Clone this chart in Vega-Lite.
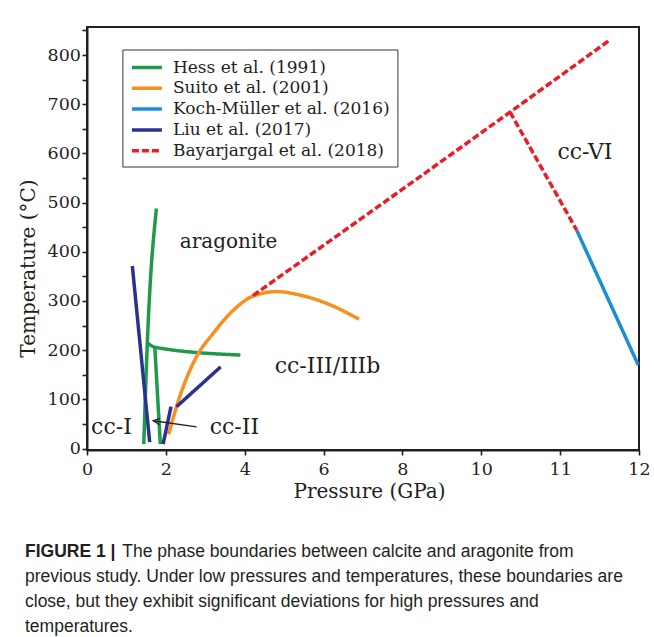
{
  "$schema": "https://vega.github.io/schema/vega-lite/v6.json",
  "autosize": {"type": "none"},
  "width": 552,
  "height": 423,
  "padding": {"left": 87, "top": 27, "right": 15, "bottom": 187},
  "background": "white",
  "title": {
    "text": "FIGURE 1 |",
    "subtitle": [
      "\u200b\u00a0\u00a0\u00a0\u00a0\u00a0\u00a0\u00a0\u00a0\u00a0\u00a0\u00a0\u00a0\u00a0\u00a0\u00a0\u00a0\u00a0\u00a0\u00a0\u00a0The phase boundaries between calcite and aragonite from",
      "previous study. Under low pressures and temperatures, these boundaries are",
      "close, but they exhibit significant deviations for high pressures and",
      "temperatures."
    ],
    "orient": "bottom",
    "anchor": "start",
    "frame": "group",
    "dx": -62,
    "offset": 42,
    "font": "Liberation Sans",
    "fontSize": 17.5,
    "fontWeight": "bold",
    "color": "#231f20",
    "subtitleFont": "Liberation Sans",
    "subtitleFontSize": 17.5,
    "subtitleFontWeight": "normal",
    "subtitleColor": "#231f20",
    "subtitleLineHeight": 25,
    "subtitlePadding": -17.5
  },
  "datasets": {
    "lines": [
      {"study": "Hess et al. (1991)", "seg": "h1", "o": 1, "P": 1.44, "T": 9},
      {"study": "Hess et al. (1991)", "seg": "h1", "o": 2, "P": 1.53, "T": 215},
      {"study": "Hess et al. (1991)", "seg": "h1", "o": 3, "P": 1.76, "T": 488},
      {"study": "Hess et al. (1991)", "seg": "h2", "o": 1, "P": 1.53, "T": 215},
      {"study": "Hess et al. (1991)", "seg": "h2", "o": 2, "P": 1.72, "T": 206},
      {"study": "Hess et al. (1991)", "seg": "h2", "o": 3, "P": 3.89, "T": 190},
      {"study": "Hess et al. (1991)", "seg": "h3", "o": 1, "P": 1.72, "T": 206},
      {"study": "Hess et al. (1991)", "seg": "h3", "o": 2, "P": 1.86, "T": 9},
      {"study": "Suito et al. (2001)", "seg": "s1", "o": 1, "P": 2.07, "T": 29},
      {"study": "Suito et al. (2001)", "seg": "s1", "o": 2, "P": 2.35, "T": 105},
      {"study": "Suito et al. (2001)", "seg": "s1", "o": 3, "P": 2.78, "T": 187},
      {"study": "Suito et al. (2001)", "seg": "s1", "o": 4, "P": 3.2, "T": 234},
      {"study": "Suito et al. (2001)", "seg": "s1", "o": 5, "P": 3.71, "T": 281},
      {"study": "Suito et al. (2001)", "seg": "s1", "o": 6, "P": 4.21, "T": 310},
      {"study": "Suito et al. (2001)", "seg": "s1", "o": 7, "P": 4.81, "T": 319},
      {"study": "Suito et al. (2001)", "seg": "s1", "o": 8, "P": 5.4, "T": 312},
      {"study": "Suito et al. (2001)", "seg": "s1", "o": 9, "P": 6.08, "T": 295},
      {"study": "Suito et al. (2001)", "seg": "s1", "o": 10, "P": 6.9, "T": 263},
      {"study": "Koch-Müller et al. (2016)", "seg": "k1", "o": 1, "P": 12.42, "T": 444},
      {"study": "Koch-Müller et al. (2016)", "seg": "k1", "o": 2, "P": 13.98, "T": 170},
      {"study": "Liu et al. (2017)", "seg": "l1", "o": 1, "P": 1.15, "T": 371},
      {"study": "Liu et al. (2017)", "seg": "l1", "o": 2, "P": 1.59, "T": 13},
      {"study": "Liu et al. (2017)", "seg": "l2", "o": 1, "P": 1.93, "T": 9},
      {"study": "Liu et al. (2017)", "seg": "l2", "o": 2, "P": 2.13, "T": 85},
      {"study": "Liu et al. (2017)", "seg": "l3", "o": 1, "P": 2.27, "T": 85},
      {"study": "Liu et al. (2017)", "seg": "l3", "o": 2, "P": 3.39, "T": 166},
      {"study": "Bayarjargal et al. (2018)", "seg": "r1", "o": 1, "P": 4.21, "T": 311},
      {"study": "Bayarjargal et al. (2018)", "seg": "r1", "o": 2, "P": 10.73, "T": 684},
      {"study": "Bayarjargal et al. (2018)", "seg": "r1", "o": 3, "P": 13.25, "T": 830},
      {"study": "Bayarjargal et al. (2018)", "seg": "r2", "o": 1, "P": 10.73, "T": 684},
      {"study": "Bayarjargal et al. (2018)", "seg": "r2", "o": 2, "P": 12.42, "T": 444}
    ],
    "labels": [
      {"label": "aragonite", "kind": "small", "P": 3.59, "T": 407},
      {"label": "cc-III/IIIb", "kind": "big", "P": 6.1, "T": 153},
      {"label": "cc-I", "kind": "big", "P": 0.62, "T": 29.5},
      {"label": "cc-II", "kind": "big", "P": 3.74, "T": 29.5},
      {"label": "cc-VI", "kind": "big", "P": 12.63, "T": 588}
    ],
    "arrow": [
      {"seg": "shaft", "o": 1, "P": 2.78, "T": 44},
      {"seg": "shaft", "o": 2, "P": 1.68, "T": 56.5},
      {"seg": "head", "o": 1, "P": 1.84, "T": 48.4},
      {"seg": "head", "o": 2, "P": 1.68, "T": 56.5},
      {"seg": "head", "o": 3, "P": 1.85, "T": 60.6}
    ]
  },
  "encoding": {
    "x": {
      "field": "P",
      "type": "quantitative",
      "scale": {"domain": [0, 14], "nice": false, "zero": false},
      "axis": {
        "title": "Pressure (GPa)",
        "values": [0, 2, 4, 6, 8, 10, 12, 14],
        "labelExpr": "datum.value == 12 ? '11' : datum.value == 14 ? '12' : datum.label",
        "labelFlush": false,
        "labelOverlap": false,
        "labelPadding": 5,
        "tickSize": 5,
        "titleX": 282,
        "titleY": 47,
        "titleBaseline": "alphabetic",
        "titleAnchor": "middle"
      }
    },
    "y": {
      "field": "T",
      "type": "quantitative",
      "scale": {"domain": [-3, 857], "nice": false, "zero": false},
      "axis": {
        "title": "Temperature (°C)",
        "values": [0, 50, 100, 150, 200, 250, 300, 350, 400, 450, 500, 550, 600, 650, 700, 750, 800, 850],
        "labelExpr": "datum.value % 100 == 0 ? datum.label : ''",
        "labelFlush": false,
        "labelOverlap": false,
        "labelPadding": 1.5,
        "tickSize": 5,
        "titleX": -59,
        "titleY": 241,
        "titleAngle": -90,
        "titleBaseline": "middle",
        "titleAlign": "center"
      }
    }
  },
  "layer": [
    {
      "data": {"name": "lines"},
      "mark": {"type": "line", "strokeWidth": 3.5, "interpolate": "monotone", "strokeCap": "butt"},
      "encoding": {
        "color": {
          "field": "study",
          "type": "nominal",
          "scale": {
            "domain": ["Hess et al. (1991)", "Suito et al. (2001)", "Koch-Müller et al. (2016)", "Liu et al. (2017)", "Bayarjargal et al. (2018)"],
            "range": ["#1f9a4b", "#f7901e", "#1a8fd8", "#2b3190", "#ec1c24"]
          },
          "legend": {"title": null}
        },
        "strokeDash": {
          "field": "study",
          "type": "nominal",
          "scale": {
            "domain": ["Hess et al. (1991)", "Suito et al. (2001)", "Koch-Müller et al. (2016)", "Liu et al. (2017)", "Bayarjargal et al. (2018)"],
            "range": [[1, 0], [1, 0], [1, 0], [1, 0], [7, 3]]
          },
          "legend": {"title": null}
        },
        "detail": {"field": "seg"},
        "order": {"field": "o", "type": "quantitative"}
      }
    },
    {
      "data": {"name": "arrow"},
      "mark": {"type": "line", "color": "#231f20", "strokeWidth": 1.3},
      "encoding": {
        "detail": {"field": "seg"},
        "order": {"field": "o", "type": "quantitative"}
      }
    },
    {
      "data": {"name": "labels"},
      "transform": [{"filter": "datum.kind == 'big'"}],
      "mark": {"type": "text", "font": "DejaVu Serif", "fontSize": 22, "align": "center", "baseline": "alphabetic", "color": "#231f20"},
      "encoding": {"text": {"field": "label"}}
    },
    {
      "data": {"name": "labels"},
      "transform": [{"filter": "datum.kind == 'small'"}],
      "mark": {"type": "text", "font": "DejaVu Serif", "fontSize": 20, "align": "center", "baseline": "alphabetic", "color": "#231f20"},
      "encoding": {"text": {"field": "label"}}
    }
  ],
  "config": {
    "view": {"stroke": "#231f20", "strokeWidth": 2},
    "axis": {
      "grid": false,
      "domainColor": "#231f20",
      "domainWidth": 2,
      "tickColor": "#231f20",
      "tickWidth": 1.6,
      "labelFont": "DejaVu Serif",
      "labelFontSize": 17.5,
      "labelColor": "#231f20",
      "titleFont": "DejaVu Serif",
      "titleFontSize": 20,
      "titleFontWeight": "normal",
      "titleColor": "#231f20"
    },
    "legend": {
      "orient": "none",
      "legendX": 35.4,
      "legendY": 22.5,
      "strokeColor": "#333333",
      "fillColor": "white",
      "padding": 7.5,
      "labelFont": "DejaVu Serif",
      "labelFontSize": 17,
      "labelColor": "#231f20",
      "labelLimit": 400,
      "symbolType": "M-1,0H2.53",
      "symbolSize": 289,
      "symbolStrokeWidth": 3.5,
      "labelOffset": 22,
      "rowPadding": 1.8
    }
  }
}
